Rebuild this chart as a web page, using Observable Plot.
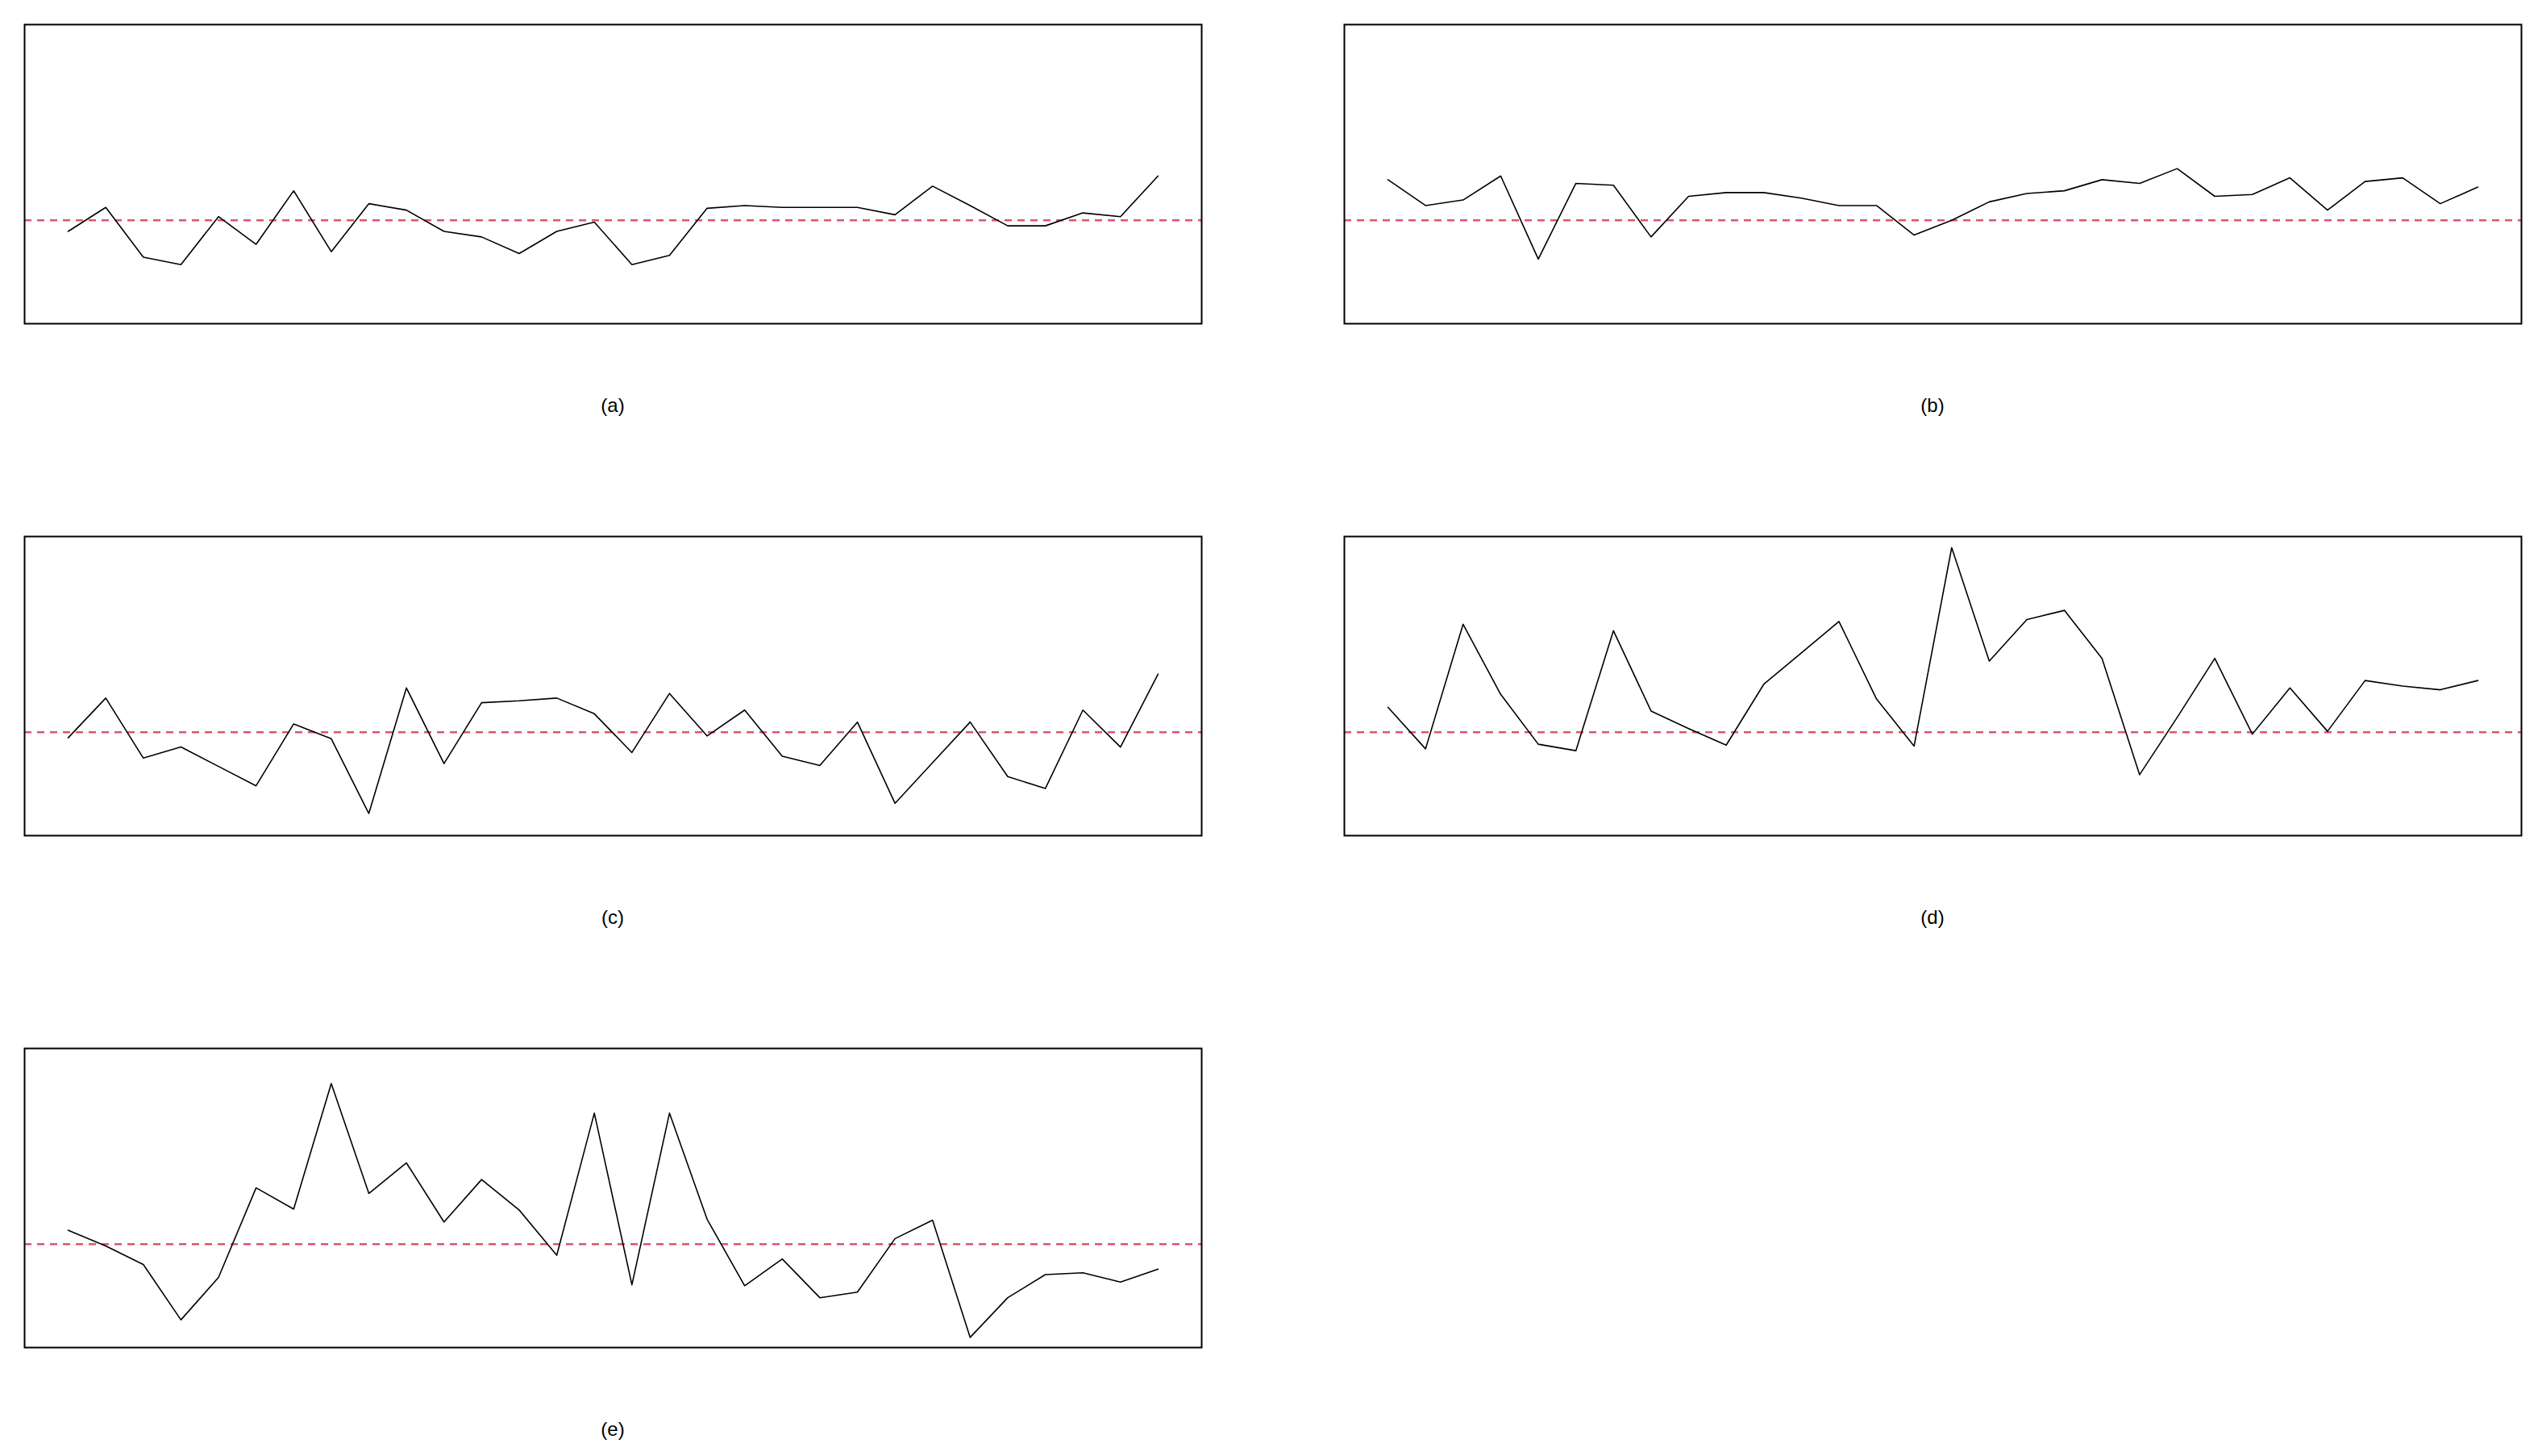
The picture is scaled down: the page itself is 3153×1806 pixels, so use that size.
<!DOCTYPE html>
<html>
<head>
<meta charset="utf-8">
<script src="https://cdn.jsdelivr.net/npm/d3@7"></script>
<script src="https://cdn.jsdelivr.net/npm/@observablehq/plot@0.6"></script>
<style>
  html, body { margin: 0; padding: 0; background: #ffffff; }
  #root { position: relative; width: 3153px; height: 1806px; background: #ffffff; overflow: hidden; }
  .panel { position: absolute; }
  .label { position: absolute; width: 300px; text-align: center; font-family: "Liberation Sans", Arial, sans-serif; font-size: 24px; line-height: 24px; color: #000; }
</style>
</head>
<body>
<div id="root"></div>
<script>
// Index of observations (1..30)
const obs = d3.range(1, 31);

// Series values (reference level = 0)
const seriesA = [-0.12, 0.14, -0.40, -0.48, 0.04, -0.26, 0.32, -0.34, 0.18, 0.11,
                 -0.12, -0.18, -0.36, -0.12, -0.02, -0.48, -0.38, 0.13, 0.16, 0.14,
                 0.14, 0.14, 0.06, 0.37, 0.16, -0.06, -0.06, 0.08, 0.04, 0.48];
const seriesB = [0.44, 0.16, 0.22, 0.48, -0.42, 0.40, 0.38, -0.18, 0.26, 0.30,
                 0.30, 0.24, 0.16, 0.16, -0.16, 0.00, 0.20, 0.29, 0.32, 0.44,
                 0.40, 0.56, 0.26, 0.28, 0.46, 0.11, 0.42, 0.46, 0.18, 0.36];
const seriesC = [-0.06, 0.37, -0.28, -0.16, -0.37, -0.58, 0.09, -0.07, -0.88, 0.48,
                 -0.34, 0.32, 0.34, 0.37, 0.20, -0.22, 0.42, -0.04, 0.24, -0.26,
                 -0.36, 0.11, -0.77, -0.33, 0.11, -0.48, -0.61, 0.24, -0.16, 0.63];
const seriesD = [0.27, -0.18, 1.17, 0.41, -0.13, -0.20, 1.10, 0.23, 0.04, -0.14,
                 0.52, 0.86, 1.20, 0.36, -0.15, 2.00, 0.77, 1.22, 1.32, 0.80,
                 -0.46, 0.16, 0.80, -0.02, 0.48, 0.01, 0.56, 0.50, 0.46, 0.56];
const seriesE = [0.15, -0.02, -0.22, -0.82, -0.36, 0.61, 0.38, 1.74, 0.55, 0.88,
                 0.24, 0.70, 0.37, -0.12, 1.42, -0.44, 1.42, 0.27, -0.45, -0.16,
                 -0.58, -0.52, 0.06, 0.26, -1.01, -0.58, -0.33, -0.31, -0.41, -0.27];

const refLevel = [0];
const panelLabels = ["(a)", "(b)", "(c)", "(d)", "(e)"];
const allSeries = [seriesA, seriesB, seriesC, seriesD, seriesE];

// layout: frame outer left/top for each panel
const layout = [
  {left: 30, top: 30}, {left: 1667, top: 30},
  {left: 30, top: 665}, {left: 1667, top: 665},
  {left: 30, top: 1300}
];
const W = 1460, H = 371, M = 2;

const root = document.getElementById("root");

allSeries.forEach((vals, k) => {
  const data = obs.map((o, i) => ({x: o, y: vals[i]}));
  const chart = Plot.plot({
    width: W + 2 * M,
    height: H + 2 * M,
    margin: M,
    style: {background: "transparent", overflow: "visible"},
    x: {domain: [1 - 0.04 * 29, 30 + 0.04 * 29], axis: null},
    y: {domain: [-1 - 0.04 * 3, 2 + 0.04 * 3], axis: null},
    marks: [
      Plot.ruleY(refLevel, {stroke: "#DF536B", strokeWidth: 2.5, strokeDasharray: "9,7"}),
      Plot.line(data, {x: "x", y: "y", stroke: "#000000", strokeWidth: 1.6}),
      Plot.frame({stroke: "#000000", strokeWidth: 2})
    ]
  });
  const div = document.createElement("div");
  div.className = "panel";
  div.style.left = (layout[k].left - M) + "px";
  div.style.top = (layout[k].top - M) + "px";
  div.appendChild(chart);
  root.appendChild(div);

  const lab = document.createElement("div");
  lab.className = "label";
  lab.textContent = panelLabels[k];
  lab.style.left = (layout[k].left + W / 2 - 150) + "px";
  lab.style.top = (layout[k].top + 461) + "px";
  root.appendChild(lab);
});
</script>
</body>
</html>
